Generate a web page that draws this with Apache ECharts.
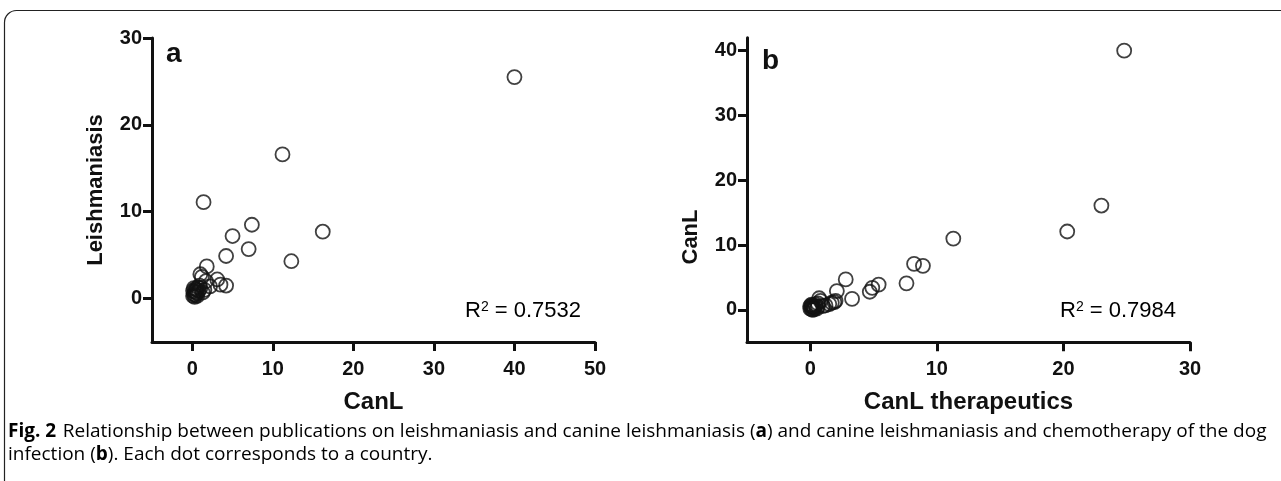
<!DOCTYPE html>
<html>
<head>
<meta charset="utf-8">
<script src="https://cdn.jsdelivr.net/npm/echarts@6/dist/echarts.min.js"></script>
<style>
  html, body { margin: 0; padding: 0; background: #fff; }
  #chart { width: 1281px; height: 481px; }
</style>
</head>
<body>
<div id="chart"></div>
<script>
// panel a: CanL (x) vs Leishmaniasis (y)
var aCanL  = [40.0, 11.2, 1.4, 7.4, 16.2, 5.0, 7.0, 4.2, 12.3, 1.8, 1.0, 1.2, 3.1, 1.7, 3.5, 4.2, 2.2, 1.5, 1.3,
              0.2, 0.3, 0.5, 0.1, 0.4, 0.6, 0.2, 0.8, 0.3, 0.7, 0.5, 0.1, 0.9, 0.4, 1.0, 0.6];
var aLeish = [25.5, 16.6, 11.1, 8.5, 7.7, 7.2, 5.7, 4.9, 4.3, 3.7, 2.8, 2.5, 2.2, 2.0, 1.6, 1.5, 1.4, 1.0, 0.7,
              0.5, 0.8, 1.0, 0.3, 0.4, 0.6, 1.2, 0.9, 0.2, 1.3, 0.7, 0.9, 1.5, 1.1, 1.2, 0.3];

// panel b: CanL therapeutics (x) vs CanL (y)
var bTher = [24.8, 23.0, 20.3, 11.3, 8.2, 8.9, 7.6, 5.4, 4.9, 4.7, 2.8, 2.1, 3.3,
             0.7, 0.8, 1.7, 2.0, 1.5, 1.2, 1.9, 1.0, 0.6,
             0.0, 0.1, 0.2, 0.3, 0.1, 0.4, 0.2, 0.5, 0.0, 0.3, 0.6, 0.1, 0.4, 0.2];
var bCanL = [40.0, 16.1, 12.1, 11.0, 7.1, 6.8, 4.1, 3.9, 3.4, 2.8, 4.7, 2.9, 1.7,
             1.8, 1.4, 1.1, 1.4, 0.9, 0.7, 1.2, 0.6, 1.0,
             0.2, 0.5, 0.0, 0.3, 0.8, 0.6, 0.4, 0.2, 0.6, 0.1, 0.5, 0.1, 0.9, 0.7];

var aTicksX = [0, 10, 20, 30, 40, 50];
var aTicksY = [0, 10, 20, 30];
var bTicksX = [0, 10, 20, 30];
var bTicksY = [0, 10, 20, 30, 40];

function pairs(xs, ys) {
    var out = [];
    for (var i = 0; i < xs.length; i++) {
        out.push([xs[i], ys[i]]);
    }
    return out;
}

var FONT = 'Liberation Sans, Arial, Helvetica, sans-serif';
var CAPFONT = 'Open Sans';

function valueAxis(idx, min, max, ticks, name, nameGap, nameSize, isY, namePad) {
    return {
        type: 'value',
        gridIndex: idx,
        min: min,
        max: max,
        name: name,
        nameLocation: 'middle',
        nameGap: nameGap,
        nameMoveOverlap: false,
        nameTextStyle: {
            fontFamily: FONT, fontWeight: 'bold', fontSize: nameSize, color: '#111',
            padding: namePad || 0
        },
        axisLine: { show: true, onZero: false, lineStyle: { color: '#111', width: 3 } },
        axisTick: { show: true, length: 9, customValues: ticks, lineStyle: { color: '#111', width: 3 } },
        axisLabel: {
            customValues: ticks,
            fontFamily: FONT, fontWeight: 'bold', fontSize: 20, color: '#111',
            margin: isY ? 10 : 17
        },
        splitLine: { show: false }
    };
}

var circleStyle = { color: 'rgba(0,0,0,0)', borderColor: '#111', borderWidth: 1.8 };

function r2Text(x, value) {
    return {
        type: 'text', x: x, y: 311,
        style: {
            text: '{r|R}{s|2}{r| = ' + value + '}',
            verticalAlign: 'middle',
            rich: {
                r: { fontFamily: FONT, fontSize: 22, color: '#111' },
                s: { fontFamily: FONT, fontSize: 14, color: '#111', verticalAlign: 'top', padding: [0, 0, 8, 0] }
            }
        }
    };
}

var capRich = {
    b: { fontFamily: CAPFONT, fontWeight: 'bold', fontSize: 19, color: '#1a1a1a' },
    n: { fontFamily: CAPFONT, fontSize: 19, color: '#1a1a1a' }
};

var chart = echarts.init(document.getElementById('chart'));

var options = {
    animation: false,
    backgroundColor: '#fff',
    grid: [
        { left: 152, top: 38, width: 443, height: 304 },
        { left: 747, top: 37.7, width: 443, height: 304.6 }
    ],
    xAxis: [
        valueAxis(0, -5, 50, aTicksX, 'CanL', 48, 24, false),
        valueAxis(1, -5, 30, bTicksX, 'CanL therapeutics', 48, 24, false)
    ],
    yAxis: [
        valueAxis(0, -5, 30, aTicksY, 'Leishmaniasis', 45, 22, true),
        valueAxis(1, -5, 42, bTicksY, 'CanL', 45, 22, true, [0, 94, 0, 0])
    ],
    series: [
        {
            type: 'scatter', xAxisIndex: 0, yAxisIndex: 0,
            symbol: 'circle', symbolSize: 14,
            itemStyle: circleStyle,
            data: pairs(aCanL, aLeish)
        },
        {
            type: 'scatter', xAxisIndex: 1, yAxisIndex: 1,
            symbol: 'circle', symbolSize: 14,
            itemStyle: circleStyle,
            data: pairs(bTher, bCanL)
        }
    ],
    graphic: [
        {
            type: 'rect', silent: true,
            shape: { x: 4.5, y: 10.5, width: 1400, height: 600, r: [12, 0, 0, 0] },
            style: { fill: 'none', stroke: '#222', lineWidth: 1.2 }
        },
        { type: 'text', x: 166, y: 54, style: { text: 'a', font: 'bold 28px ' + FONT, fill: '#111', verticalAlign: 'middle' } },
        { type: 'text', x: 762, y: 61, style: { text: 'b', font: 'bold 28px ' + FONT, fill: '#111', verticalAlign: 'middle' } },
        r2Text(465, '0.7532'),
        r2Text(1060, '0.7984'),
        {
            type: 'text', x: 8, y: 432,
            style: {
                text: '{b|Fig. 2}  {n|Relationship between publications on leishmaniasis and canine leishmaniasis (}{b|a}{n|) and canine leishmaniasis and chemotherapy of the dog}',
                verticalAlign: 'middle',
                rich: capRich
            }
        },
        {
            type: 'text', x: 8, y: 455,
            style: {
                text: '{n|infection (}{b|b}{n|). Each dot corresponds to a country.}',
                verticalAlign: 'middle',
                rich: capRich
            }
        }
    ]
};

chart.setOption(options);
</script>
</body>
</html>
